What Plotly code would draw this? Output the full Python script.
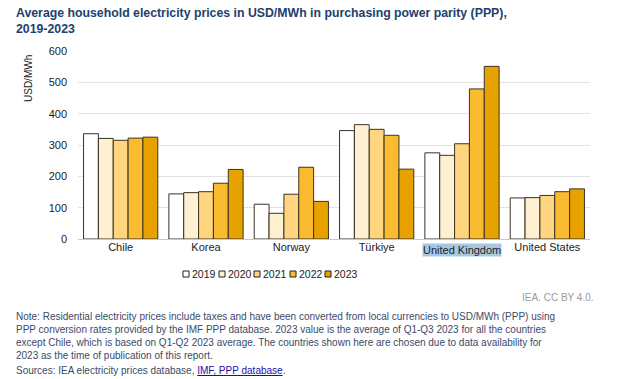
import plotly.graph_objects as go

countries = ["Chile", "Korea", "Norway", "Türkiye", "United Kingdom", "United States"]
years = ["2019", "2020", "2021", "2022", "2023"]
v2019 = [336, 144, 111, 346, 275, 131]
v2020 = [321, 148, 82, 365, 267, 132]
v2021 = [315, 151, 143, 350, 304, 139]
v2022 = [322, 178, 229, 331, 479, 151]
v2023 = [325, 222, 120, 223, 551, 160]
series = [v2019, v2020, v2021, v2022, v2023]
colors = ["#FFFFFF", "#FFF0D2", "#FFD67F", "#FBBB30", "#E8A200"]
y_ticks = [0, 100, 200, 300, 400, 500, 600]
highlighted = "United Kingdom"

W, H = 631, 379
L, R, T, B = 78, 41, 51, 140
PW, PH = W - L - R, H - T - B

def xp(px):
    return (px - L) / PW

def yp(py):
    return (H - B - py) / PH

fig = go.Figure()
for yr, vals, col in zip(years, series, colors):
    fig.add_trace(go.Bar(x=countries, y=vals, name=yr, marker=dict(color=col, line=dict(color="#3a3327", width=1)),
                         showlegend=False))

FONT = "Liberation Sans, Arial, sans-serif"
NAVY = "#22406e"

annotations = []
shapes = []
# title
annotations.append(dict(xref="paper", yref="paper", x=xp(14), y=yp(4), xanchor="left", yanchor="top",
                        text="<b>Average household electricity prices in USD/MWh in purchasing power parity (PPP),<br>2019-2023</b>",
                        showarrow=False, align="left", font=dict(family=FONT, size=12.3, color=NAVY)))
# y title
annotations.append(dict(xref="paper", yref="paper", x=xp(28), y=yp(79), xanchor="center", yanchor="middle",
                        text="USD/MWh", textangle=-90, showarrow=False, font=dict(family=FONT, size=10, color="#222")))
# highlighted category label
annotations.append(dict(xref="x", yref="paper", x=highlighted, y=yp(249.5), xanchor="center", yanchor="middle",
                        text=highlighted, showarrow=False, bgcolor="#a8c8e2", borderpad=0,
                        font=dict(family=FONT, size=11, color="#222")))
# legend (custom, compact)
leg_x = [183, 219, 254, 290, 325]
for lx, yr, col in zip(leg_x, years, colors):
    shapes.append(dict(type="rect", xref="paper", yref="paper", x0=xp(lx), x1=xp(lx + 6), y0=yp(277), y1=yp(271),
                       fillcolor=col, line=dict(color="#222", width=1)))
    annotations.append(dict(xref="paper", yref="paper", x=xp(lx + 7), y=yp(274), xanchor="left", yanchor="middle",
                            text=yr, showarrow=False, font=dict(family=FONT, size=10.5, color="#222")))
# credit
annotations.append(dict(xref="paper", yref="paper", x=xp(596), y=yp(297), xanchor="right", yanchor="middle",
                        text="IEA. CC BY 4.0.", showarrow=False, font=dict(family=FONT, size=10, color="#9a9a9a")))
# note
note = ("Note: Residential electricity prices include taxes and have been converted from local currencies to USD/MWh (PPP) using<br>"
        "PPP conversion rates provided by the IMF PPP database. 2023 value is the average of Q1-Q3 2023 for all the countries<br>"
        "except Chile, which is based on Q1-Q2 2023 average. The countries shown here are chosen due to data availability for<br>"
        "2023 as the time of publication of this report.")
annotations.append(dict(xref="paper", yref="paper", x=xp(14), y=yp(309), xanchor="left", yanchor="top",
                        text=note, showarrow=False, align="left", font=dict(family=FONT, size=10, color="#3a4a68")))
annotations.append(dict(xref="paper", yref="paper", x=xp(14), y=yp(370), xanchor="left", yanchor="middle",
                        text="Sources: IEA electricity prices database, <span style='color:#1a0dab;text-decoration:underline'>IMF, PPP database</span>.",
                        showarrow=False, align="left", font=dict(family=FONT, size=10, color="#3a4a68")))

ticktext = ["" if c == highlighted else c for c in countries]

fig.update_layout(
    width=W, height=H,
    margin=dict(l=L, r=R, t=T, b=B),
    paper_bgcolor="white", plot_bgcolor="white",
    barmode="group", bargap=0.13, bargroupgap=0,
    font=dict(family=FONT, size=11, color="#222"),
    showlegend=False,
    annotations=annotations, shapes=shapes,
    xaxis=dict(showgrid=False, showline=False, ticks="", tickvals=countries, ticktext=ticktext,
               tickfont=dict(size=11, color="#222")),
    yaxis=dict(range=[0, 600], tickvals=y_ticks, showgrid=True, gridcolor="#e3e3e3", gridwidth=1,
               zeroline=True, zerolinecolor="#c8c8c8", zerolinewidth=1, ticks="", ticklabelstandoff=10,
               tickfont=dict(size=11, color="#222")),
)

fig.write_html("out.html", config={"displayModeBar": False},
               post_script="document.body.style.margin='0';")
